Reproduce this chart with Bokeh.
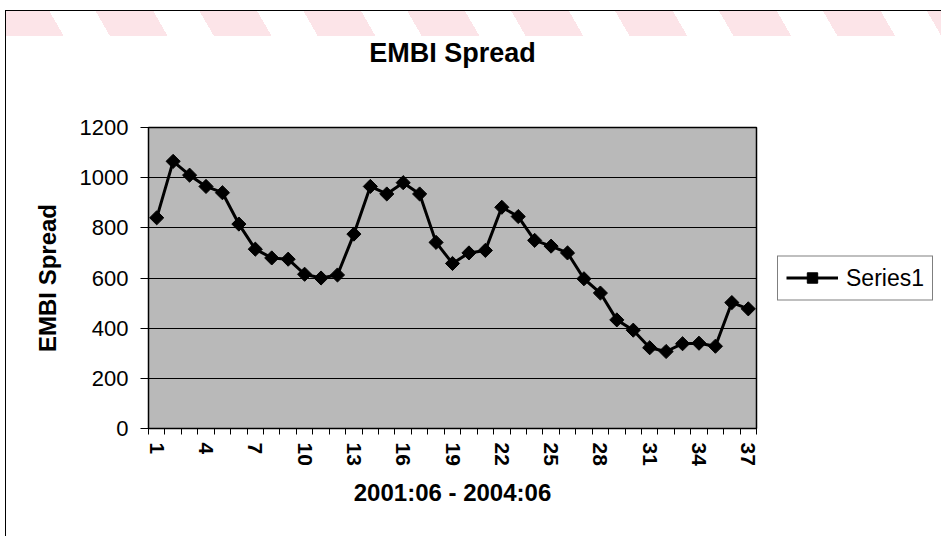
import numpy as np
from bokeh.plotting import figure
from bokeh.models import Range1d, FixedTicker, Legend, LegendItem, Title
from bokeh.embed import file_html
from bokeh.resources import INLINE

# ---- data ----
periods = list(range(1, 38))
spread = [840, 1065, 1010, 965, 940, 815, 715, 680, 675, 615, 600, 612, 775,
          965, 935, 980, 935, 742, 658, 700, 710, 882, 845, 750, 727, 700,
          597, 540, 433, 392, 322, 307, 338, 340, 328, 502, 477]
x_tick_labels = list(range(1, 38, 3))
x_boundaries = [i + 0.5 for i in range(0, 38)]
y_ticks = [0, 200, 400, 600, 800, 1000, 1200]
series_name = "Series1"
chart_title = "EMBI Spread"

FONT = "Liberation Sans"

p = figure(frame_width=608, frame_height=301, output_backend="svg",
           toolbar_location=None, title=None,
           x_range=Range1d(0.5, 37.5), y_range=Range1d(0, 1200),
           min_border_left=142, min_border_top=116,
           min_border_right=180, min_border_bottom=108)

p.styles = {
    "margin-left": "5px",
    "margin-top": "10px",
    "border-top": "1px solid #000000",
    "border-left": "1px solid #000000",
    "background": "repeating-linear-gradient(60deg, #fce4e8 0px, #fce4e8 50px, #ffffff 50px, #ffffff 90px) 0 0 / 100% 25px no-repeat, #ffffff",
}
p.border_fill_color = None
p.border_fill_alpha = 0

# plot area
p.background_fill_color = "#b9b9b9"
p.outline_line_color = "black"
p.outline_line_width = 1.5

# spacer between the title and the plot area, then the title itself
spacer = Title(text=" ", text_font_size="2px", standoff=54)
p.add_layout(spacer, "above")
main_title = Title(text=chart_title, align="center", vertical_align="top",
                   offset=21, standoff=0, text_font=FONT,
                   text_font_size="27px", text_font_style="bold",
                   text_color="black")
p.add_layout(main_title, "above")

# y axis
yax = p.yaxis[0]
yax.ticker = FixedTicker(ticks=y_ticks)
yax.axis_label = "EMBI Spread"
yax.axis_label_text_font = FONT
yax.axis_label_text_font_size = "24px"
yax.axis_label_text_font_style = "bold"
yax.axis_label_standoff = 16
yax.major_label_text_font = FONT
yax.major_label_text_font_size = "22px"
yax.major_label_standoff = 12
yax.major_tick_out = 8
yax.major_tick_in = 0
yax.minor_tick_line_color = None
yax.axis_line_color = "black"
yax.major_tick_line_color = "black"
yax.major_label_text_color = "black"
yax.axis_label_text_color = "black"

# x axis
xax = p.xaxis[0]
xax.ticker = FixedTicker(ticks=x_tick_labels, minor_ticks=x_boundaries)
xax.axis_label = "2001:06 - 2004:06"
xax.axis_label_text_font = FONT
xax.axis_label_text_font_size = "24px"
xax.axis_label_text_font_style = "bold"
xax.axis_label_standoff = 10
xax.major_label_text_font = FONT
xax.major_label_text_font_size = "21px"
xax.major_label_text_font_style = "bold"
xax.major_label_orientation = "vertical"
xax.major_label_standoff = 8
xax.major_tick_line_color = None
xax.major_tick_out = 0
xax.minor_tick_line_color = "black"
xax.minor_tick_out = 6
xax.minor_tick_in = 0
xax.axis_line_color = "black"
xax.major_label_text_color = "black"
xax.axis_label_text_color = "black"

# grids
p.xgrid.grid_line_color = None
p.ygrid.ticker = FixedTicker(ticks=y_ticks)
p.ygrid.grid_line_color = "black"
p.ygrid.grid_line_width = 1

# series
line_r = p.line(periods, spread, line_color="black", line_width=3)
pts_r = p.scatter(periods, spread, marker="square", angle=np.pi / 4, size=10,
                  fill_color="black", line_color="black")

legend = Legend(items=[LegendItem(label=series_name,
                                  renderers=[line_r, pts_r])],
                location="center_left", margin=21, padding=8, spacing=0,
                glyph_width=52, glyph_height=26, label_standoff=8,
                label_text_font=FONT, label_text_font_size="23px",
                label_text_color="black",
                border_line_color="black", border_line_width=1,
                background_fill_color="white", background_fill_alpha=1)
p.add_layout(legend, "right")

open("out.html", "w").write(file_html(p, INLINE))
